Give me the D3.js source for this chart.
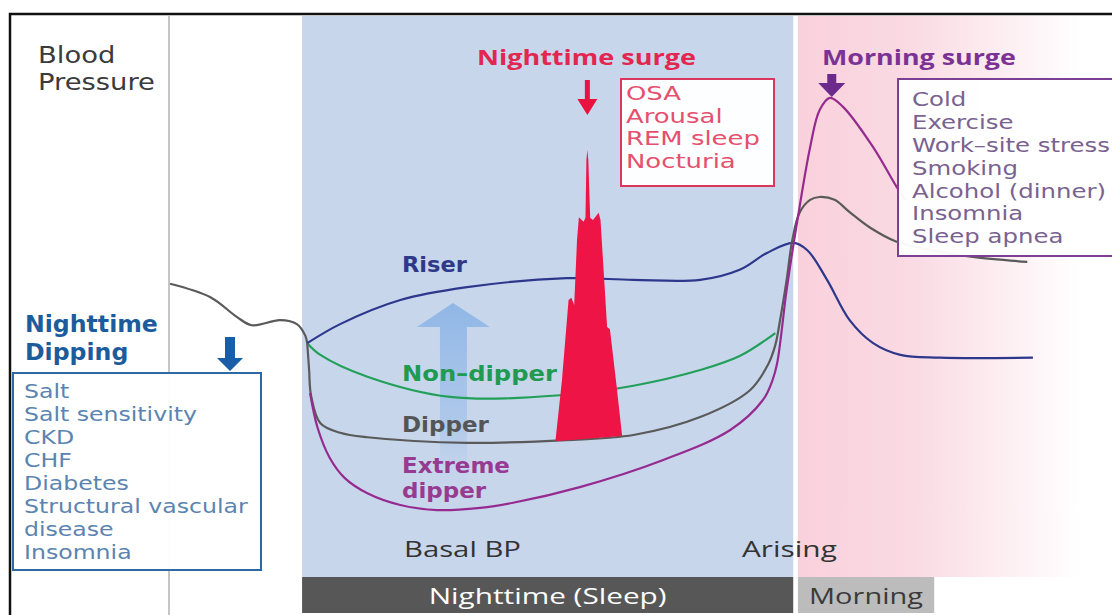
<!DOCTYPE html>
<html>
<head>
<meta charset="utf-8">
<script src="https://cdn.jsdelivr.net/npm/d3@7"></script>
<style>
  body { margin: 0; background: #fff; }
  svg { display: block; }
</style>
</head>
<body>
<div id="chart"></div>
<script>
// ---- data (time units 0..100 across, BP units 0..100 up) ----
const preNight = [[0, 52.0], [4.3, 49.6], [7.1, 46.1], [8.7, 44.6], [11.7, 45.5], [13.5, 44.8], [14.4, 42.7], [14.6, 41.3]];

const riser = [[14.6, 41.4], [18.1, 44.8], [24.5, 49.1], [31.6, 51.4], [42.2, 53.0], [49.3, 52.7], [56.4, 52.7],
  [60.6, 54.5], [63.5, 57.5], [66.3, 59.3], [67.8, 58.0], [69.9, 52.7], [72.3, 45.5], [74.8, 41.4],
  [77.7, 39.3], [81.9, 38.8], [91.8, 38.8]];

const nonDipper = [[14.6, 41.4], [16.0, 39.3], [21.0, 35.4], [29.8, 31.8], [41.5, 32.1], [49.3, 33.8],
  [56.4, 36.6], [60.6, 39.1], [64.4, 43.2]];

const dipper = [[14.6, 41.4], [14.8, 36.6], [15.0, 32.1], [16.0, 27.1], [18.1, 25.4], [21.0, 24.6], [31.6, 23.6],
  [42.2, 24.1], [49.3, 25.0], [56.4, 28.2], [61.7, 33.0], [63.6, 37.5], [64.4, 41.1], [64.9, 45.5],
  [65.6, 52.7], [66.2, 59.8], [67.0, 64.8], [68.1, 67.0], [69.1, 67.5], [70.7, 67.0], [72.3, 64.8],
  [74.5, 62.0], [77.3, 59.5], [81.9, 57.7], [85.4, 56.8], [91.2, 55.9]];

const extremeDipper = [[14.9, 32.5], [15.7, 26.3], [17.0, 20.9], [18.6, 17.3], [21.0, 14.6], [24.5, 12.5],
  [28.4, 11.6], [33.0, 12.0], [36.5, 12.9], [43.6, 15.7], [52.4, 20.5], [59.6, 25.9], [63.1, 31.3],
  [64.1, 34.8], [64.6, 37.9], [65.6, 50.9], [66.7, 62.9], [68.1, 76.4], [69.1, 83.0], [70.2, 85.2],
  [71.6, 83.6], [74.8, 76.4], [77.3, 69.3], [78.2, 67.0]];

const nightSurge = [[41.0, 23.9], [41.7, 34.8], [42.4, 49.1], [42.7, 49.5], [43.0, 48.2], [43.3, 59.8],
  [43.5, 63.9], [44.0, 63.1], [44.2, 63.8], [44.3, 74.1], [44.4, 75.9], [44.5, 74.1], [44.7, 63.8],
  [45.0, 63.4], [45.6, 64.7], [45.8, 63.4], [46.5, 44.3], [46.8, 43.9], [47.5, 33.9], [48.1, 24.8]];

const curveLabels = [
  { lines: ["Riser"], color: "#2e3a87" },
  { lines: ["Non\u2013dipper"], color: "#1f9a50" },
  { lines: ["Dipper"], color: "#555555" },
  { lines: ["Extreme", "dipper"], color: "#973a91" }
];

const dippingCauses = ["Salt", "Salt sensitivity", "CKD", "CHF", "Diabetes", "Structural vascular", "disease", "Insomnia"];
const nightSurgeCauses = ["OSA", "Arousal", "REM sleep", "Nocturia"];
const morningSurgeCauses = ["Cold", "Exercise", "Work\u2013site stress", "Smoking", "Alcohol (dinner)", "Insomnia", "Sleep apnea"];

const phases = [
  { name: "Nighttime (Sleep)", start: 14.05, end: 66.3, fill: "#575757", text: "#ffffff" },
  { name: "Morning", start: 66.8, end: 81.3, fill: "#bcbcbc", text: "#3a3a3a" }
];

// ---- drawing ----
const W = 1112, H = 615;
const FONT = "'Open Sans', 'Noto Sans', sans-serif";
const FONT_TIGHT = "'DejaVu Sans', 'Open Sans', sans-serif";   // smaller line box for stacked lines

const svg = d3.select("#chart").append("svg")
  .attr("width", W).attr("height", H);

const x = d3.scaleLinear().domain([0, 100]).range([170, 1110]);
const y = d3.scaleLinear().domain([0, 100]).range([575, 15]);

const defs = svg.append("defs");
const pink = defs.append("linearGradient").attr("id", "pinkFade");
pink.append("stop").attr("offset", "0%").attr("stop-color", "#f9d1dc");
pink.append("stop").attr("offset", "40%").attr("stop-color", "#fadae3");
pink.append("stop").attr("offset", "100%").attr("stop-color", "#ffffff");

const arrowFade = defs.append("linearGradient").attr("id", "arrowFade")
  .attr("x1", 0).attr("y1", 0).attr("x2", 0).attr("y2", 1);
arrowFade.append("stop").attr("offset", "0%").attr("stop-color", "#8db5e6").attr("stop-opacity", 0.95);
arrowFade.append("stop").attr("offset", "60%").attr("stop-color", "#9dbfe8").attr("stop-opacity", 0.6);
arrowFade.append("stop").attr("offset", "100%").attr("stop-color", "#c8d6ec").attr("stop-opacity", 0);

const bandTop = 16, bandBottom = 577, barBottom = 613;

// background bands
svg.append("rect")
  .attr("x", x(phases[0].start)).attr("y", bandTop)
  .attr("width", x(phases[0].end) - x(phases[0].start)).attr("height", bandBottom - bandTop)
  .attr("fill", "#c8d6ec");
svg.append("rect")
  .attr("x", x(phases[1].start)).attr("y", bandTop)
  .attr("width", x(97) - x(phases[1].start)).attr("height", bandBottom - bandTop)
  .attr("fill", "url(#pinkFade)");

// y axis line
svg.append("line")
  .attr("x1", x(0) - 1).attr("x2", x(0) - 1).attr("y1", bandTop).attr("y2", H)
  .attr("stroke", "#b3b3b3").attr("stroke-width", 1.5);

// big faint upward arrow
const ax = x(30.1);
svg.append("path")
  .attr("d", `M${ax},303 L${ax + 37},327 L${ax + 14},327 L${ax + 14},505 L${ax - 13},505 L${ax - 13},327 L${ax - 36},327 Z`)
  .attr("fill", "url(#arrowFade)");

// curves
const line = d3.line().x(d => x(d[0])).y(d => y(d[1])).curve(d3.curveCatmullRom.alpha(0.5));
const series = [
  { data: preNight, color: "#5a5a5a" },
  { data: nonDipper, color: "#22a05a" },
  { data: riser, color: "#2d378c" },
  { data: dipper, color: "#5a5a5a" },
  { data: extremeDipper, color: "#962b8f" }
];
svg.append("g").selectAll("path")
  .data(series)
  .join("path")
  .attr("d", d => line(d.data))
  .attr("fill", "none")
  .attr("stroke", d => d.color)
  .attr("stroke-width", 2.2)
  .attr("stroke-linejoin", "round");

// nighttime surge spike
svg.append("path")
  .attr("d", d3.line().x(d => x(d[0])).y(d => y(d[1]))(nightSurge) + "Z")
  .attr("fill", "#ef1446");

// helper: stretch a text group horizontally to a target width
function fitWidth(g, x0, target) {
  const w = g.node().getBBox().width;
  const k = target / w;
  g.attr("transform", `translate(${x0},0) scale(${k},1) translate(${-x0},0)`);
}

// one <text> per block, a tspan per line
function textBlock(x0, y0, lines, opts) {
  const g = svg.append("g");
  const t = g.append("text")
    .attr("x", x0)
    .attr("y", y0)
    .attr("font-family", opts.font || FONT)
    .attr("font-size", opts.size)
    .attr("font-weight", opts.weight || 400)
    .attr("fill", opts.color);
  t.selectAll("tspan")
    .data(lines)
    .join("tspan")
    .attr("x", x0)
    .attr("dy", (d, i) => i === 0 ? 0 : (opts.lh || 0))
    .text(d => d);
  if (opts.width) fitWidth(g, x0, opts.width);
  return g;
}

// curve labels
const labelPos = [[402, 272, 66], [402, 381, 156], [402, 432, 88], [402, 473, 108]];
curveLabels.forEach((c, i) => {
  const p = labelPos[i];
  textBlock(p[0], p[1], c.lines, { font: FONT_TIGHT, size: 20.5, weight: 700, color: c.color, lh: 25, width: p[2] });
});

// boxes
function box(x0, y0, x1, y1, stroke) {
  svg.append("rect")
    .attr("x", x0).attr("y", y0).attr("width", x1 - x0).attr("height", y1 - y0)
    .attr("fill", "#ffffff").attr("fill-opacity", 0.96)
    .attr("stroke", stroke).attr("stroke-width", 2);
}

function downArrow(cx, top, shaftW, headTop, headW, tip, color) {
  svg.append("path")
    .attr("d", `M${cx - shaftW / 2},${top} L${cx + shaftW / 2},${top} L${cx + shaftW / 2},${headTop} L${cx + headW / 2},${headTop} L${cx},${tip} L${cx - headW / 2},${headTop} L${cx - shaftW / 2},${headTop} Z`)
    .attr("fill", color);
}

// nighttime surge
textBlock(477, 65, ["Nighttime surge"], { size: 22, weight: 700, color: "#e2264f", width: 219 });
downArrow(x(44.4), 80, 5, 99, 20, 115, "#e8143f");
box(621, 79, 774, 186, "#d9385c");
textBlock(626, 100, nightSurgeCauses, { font: FONT_TIGHT, size: 19, color: "#e4506e", lh: 22.7, width: 134 });

// morning surge
textBlock(822, 65, ["Morning surge"], { size: 22, weight: 700, color: "#7b3294", width: 194 });
downArrow(x(70.4), 74, 9, 83, 27, 97, "#6b2a8c");
box(898, 79, 1116, 256, "#7b3f94");
textBlock(912, 106, morningSurgeCauses, { font: FONT_TIGHT, size: 19, color: "#7a6290", lh: 22.9, width: 198 });

// nighttime dipping
textBlock(25, 332, ["Nighttime", "Dipping"], { font: FONT_TIGHT, size: 23.5, weight: 700, color: "#1d5c9c", lh: 28, width: 133 });
downArrow(230, 337, 10, 358, 26, 371, "#1a5ea8");
box(13, 373, 261, 570, "#2b6aa5");
textBlock(24, 398, dippingCauses, { font: FONT_TIGHT, size: 19.5, color: "#5b84b0", lh: 23, width: 225 });

// axis title
textBlock(38, 63, ["Blood", "Pressure"], { font: FONT_TIGHT, size: 23, color: "#3b3b3b", lh: 27, width: 117 });

// event labels
textBlock(404, 557, ["Basal BP"], { size: 22, weight: 500, color: "#333333", width: 117 });
textBlock(742, 557, ["Arising"], { size: 22, weight: 500, color: "#333333", width: 95 });

// phase bars
const bars = svg.append("g");
bars.selectAll("rect")
  .data(phases)
  .join("rect")
  .attr("x", d => x(d.start))
  .attr("y", bandBottom)
  .attr("width", d => x(d.end) - x(d.start))
  .attr("height", barBottom - bandBottom)
  .attr("fill", d => d.fill);
phases.forEach((p, i) => {
  const widths = [238, 114];
  const cx = (x(p.start) + x(p.end)) / 2;
  textBlock(cx - widths[i] / 2, 604, [p.name], { size: 22, color: p.text, width: widths[i] });
});

// outer frame (left + top)
svg.append("path")
  .attr("d", `M10,${H} L10,14 L${W},14`)
  .attr("fill", "none").attr("stroke", "#111").attr("stroke-width", 2.5);
</script>
</body>
</html>
